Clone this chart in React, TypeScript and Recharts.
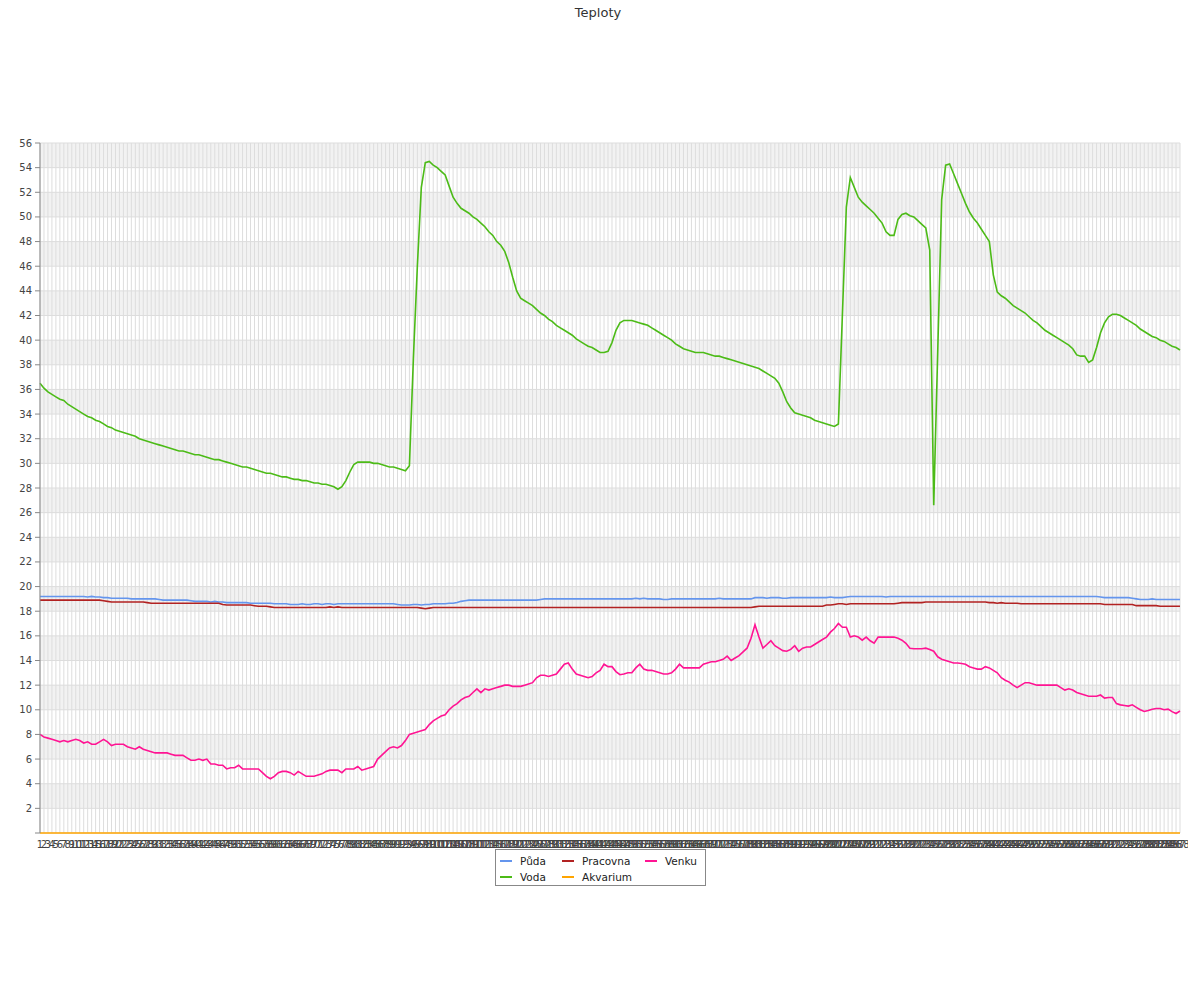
import React from 'react';
import { LineChart, Line, XAxis, YAxis, CartesianGrid } from 'recharts';

const categories: string[] = Array.from({ length: 288 }, (_, i) => String(i + 1));

const puda = [
  19.2, 19.2, 19.2, 19.2, 19.2, 19.2, 19.2, 19.2, 19.2, 19.2, 19.2, 19.2,
  19.15, 19.2, 19.15, 19.15, 19.1, 19.1, 19.05, 19.05, 19.05, 19.05, 19.05, 19.0,
  19.0, 19.0, 19.0, 19.0, 19.0, 19.0, 18.95, 18.9, 18.9, 18.9, 18.9, 18.9,
  18.9, 18.9, 18.85, 18.8, 18.8, 18.8, 18.8, 18.75, 18.8, 18.75, 18.75, 18.7,
  18.7, 18.7, 18.7, 18.7, 18.7, 18.65, 18.65, 18.65, 18.65, 18.65, 18.65, 18.6,
  18.6, 18.6, 18.6, 18.55, 18.55, 18.55, 18.6, 18.55, 18.55, 18.6, 18.6, 18.55,
  18.6, 18.6, 18.55, 18.6, 18.6, 18.6, 18.6, 18.6, 18.6, 18.6, 18.6, 18.6,
  18.6, 18.6, 18.6, 18.6, 18.6, 18.6, 18.55, 18.5, 18.5, 18.5, 18.55, 18.55,
  18.5, 18.55, 18.55, 18.6, 18.6, 18.6, 18.6, 18.65, 18.65, 18.7, 18.8, 18.85,
  18.9, 18.9, 18.9, 18.9, 18.9, 18.9, 18.9, 18.9, 18.9, 18.9, 18.9, 18.9,
  18.9, 18.9, 18.9, 18.9, 18.9, 18.9, 18.95, 19.0, 19.0, 19.0, 19.0, 19.0,
  19.0, 19.0, 19.0, 19.0, 19.0, 19.0, 19.0, 19.0, 19.0, 19.0, 19.0, 19.0,
  19.0, 19.0, 19.0, 19.0, 19.0, 19.0, 19.05, 19.0, 19.05, 19.0, 19.0, 19.0,
  19.0, 18.95, 18.95, 19.0, 19.0, 19.0, 19.0, 19.0, 19.0, 19.0, 19.0, 19.0,
  19.0, 19.0, 19.0, 19.05, 19.0, 19.0, 19.0, 19.0, 19.0, 19.0, 19.0, 19.0,
  19.1, 19.1, 19.1, 19.05, 19.1, 19.1, 19.1, 19.05, 19.05, 19.1, 19.1, 19.1,
  19.1, 19.1, 19.1, 19.1, 19.1, 19.1, 19.1, 19.15, 19.1, 19.1, 19.1, 19.15,
  19.2, 19.2, 19.2, 19.2, 19.2, 19.2, 19.2, 19.2, 19.2, 19.15, 19.2, 19.2,
  19.2, 19.2, 19.2, 19.2, 19.2, 19.2, 19.2, 19.2, 19.2, 19.2, 19.2, 19.2,
  19.2, 19.2, 19.2, 19.2, 19.2, 19.2, 19.2, 19.2, 19.2, 19.2, 19.2, 19.2,
  19.2, 19.2, 19.2, 19.2, 19.2, 19.2, 19.2, 19.2, 19.2, 19.2, 19.2, 19.2,
  19.2, 19.2, 19.2, 19.2, 19.2, 19.2, 19.2, 19.2, 19.2, 19.2, 19.2, 19.2,
  19.2, 19.2, 19.2, 19.15, 19.1, 19.1, 19.1, 19.1, 19.1, 19.1, 19.1, 19.05,
  19.0, 18.95, 18.95, 18.95, 19.0, 18.95, 18.95, 18.95, 18.95, 18.95, 18.95, 18.95,
];

const voda = [
  36.5, 36.1, 35.8, 35.6, 35.4, 35.2, 35.1, 34.8, 34.6, 34.4, 34.2, 34.0,
  33.8, 33.7, 33.5, 33.4, 33.2, 33.0, 32.9, 32.7, 32.6, 32.5, 32.4, 32.3,
  32.2, 32.0, 31.9, 31.8, 31.7, 31.6, 31.5, 31.4, 31.3, 31.2, 31.1, 31.0,
  31.0, 30.9, 30.8, 30.7, 30.7, 30.6, 30.5, 30.4, 30.3, 30.3, 30.2, 30.1,
  30.0, 29.9, 29.8, 29.7, 29.7, 29.6, 29.5, 29.4, 29.3, 29.2, 29.2, 29.1,
  29.0, 28.9, 28.9, 28.8, 28.7, 28.7, 28.6, 28.6, 28.5, 28.4, 28.4, 28.3,
  28.3, 28.2, 28.1, 27.9, 28.1, 28.6, 29.3, 29.9, 30.1, 30.1, 30.1, 30.1,
  30.0, 30.0, 29.9, 29.8, 29.7, 29.7, 29.6, 29.5, 29.4, 29.8, 38.5, 46.0,
  52.4, 54.4, 54.5, 54.2, 54.0, 53.7, 53.4, 52.5, 51.6, 51.1, 50.7, 50.5,
  50.3, 50.0, 49.8, 49.5, 49.2, 48.8, 48.5, 48.0, 47.7, 47.2, 46.3, 45.1,
  44.0, 43.4, 43.2, 43.0, 42.8, 42.5, 42.2, 42.0, 41.7, 41.5, 41.2, 41.0,
  40.8, 40.6, 40.4, 40.1, 39.9, 39.7, 39.5, 39.4, 39.2, 39.0, 39.0, 39.1,
  39.8, 40.8, 41.4, 41.6, 41.6, 41.6, 41.5, 41.4, 41.3, 41.2, 41.0, 40.8,
  40.6, 40.4, 40.2, 40.0, 39.7, 39.5, 39.3, 39.2, 39.1, 39.0, 39.0, 39.0,
  38.9, 38.8, 38.7, 38.7, 38.6, 38.5, 38.4, 38.3, 38.2, 38.1, 38.0, 37.9,
  37.8, 37.7, 37.5, 37.3, 37.1, 36.9, 36.5, 35.8, 35.0, 34.5, 34.1, 34.0,
  33.9, 33.8, 33.7, 33.5, 33.4, 33.3, 33.2, 33.1, 33.0, 33.2, 42.0, 50.8,
  53.2, 52.4, 51.6, 51.2, 50.9, 50.6, 50.3, 49.9, 49.5, 48.8, 48.5, 48.5,
  49.8, 50.2, 50.3, 50.1, 50.0, 49.7, 49.4, 49.1, 47.3, 26.6, 39.0, 51.4,
  54.2, 54.3, 53.5, 52.7, 51.9, 51.1, 50.4, 49.9, 49.5, 49.0, 48.5, 48.0,
  45.3, 43.9, 43.6, 43.4, 43.1, 42.8, 42.6, 42.4, 42.2, 41.9, 41.6, 41.4,
  41.1, 40.8, 40.6, 40.4, 40.2, 40.0, 39.8, 39.6, 39.3, 38.8, 38.7, 38.7,
  38.2, 38.4, 39.4, 40.6, 41.4, 41.9, 42.1, 42.1, 42.0, 41.8, 41.6, 41.4,
  41.2, 40.9, 40.7, 40.5, 40.3, 40.2, 40.0, 39.9, 39.7, 39.5, 39.4, 39.2,
];

const pracovna = [
  18.9, 18.9, 18.9, 18.9, 18.9, 18.9, 18.9, 18.9, 18.9, 18.9, 18.9, 18.9,
  18.9, 18.9, 18.9, 18.9, 18.85, 18.8, 18.75, 18.75, 18.75, 18.75, 18.75, 18.75,
  18.75, 18.75, 18.75, 18.7, 18.65, 18.65, 18.65, 18.65, 18.65, 18.65, 18.65, 18.65,
  18.65, 18.65, 18.65, 18.65, 18.65, 18.65, 18.65, 18.65, 18.65, 18.65, 18.55, 18.5,
  18.5, 18.5, 18.5, 18.5, 18.5, 18.5, 18.45, 18.4, 18.4, 18.4, 18.35, 18.3,
  18.3, 18.3, 18.3, 18.3, 18.3, 18.3, 18.3, 18.3, 18.3, 18.3, 18.3, 18.3,
  18.3, 18.35, 18.3, 18.35, 18.3, 18.3, 18.3, 18.3, 18.3, 18.3, 18.3, 18.3,
  18.3, 18.3, 18.3, 18.3, 18.3, 18.3, 18.3, 18.3, 18.3, 18.3, 18.3, 18.3,
  18.25, 18.2, 18.25, 18.3, 18.3, 18.3, 18.3, 18.3, 18.3, 18.3, 18.3, 18.3,
  18.3, 18.3, 18.3, 18.3, 18.3, 18.3, 18.3, 18.3, 18.3, 18.3, 18.3, 18.3,
  18.3, 18.3, 18.3, 18.3, 18.3, 18.3, 18.3, 18.3, 18.3, 18.3, 18.3, 18.3,
  18.3, 18.3, 18.3, 18.3, 18.3, 18.3, 18.3, 18.3, 18.3, 18.3, 18.3, 18.3,
  18.3, 18.3, 18.3, 18.3, 18.3, 18.3, 18.3, 18.3, 18.3, 18.3, 18.3, 18.3,
  18.3, 18.3, 18.3, 18.3, 18.3, 18.3, 18.3, 18.3, 18.3, 18.3, 18.3, 18.3,
  18.3, 18.3, 18.3, 18.3, 18.3, 18.3, 18.3, 18.3, 18.3, 18.3, 18.3, 18.3,
  18.35, 18.4, 18.4, 18.4, 18.4, 18.4, 18.4, 18.4, 18.4, 18.4, 18.4, 18.4,
  18.4, 18.4, 18.4, 18.4, 18.4, 18.4, 18.5, 18.5, 18.55, 18.6, 18.6, 18.55,
  18.6, 18.6, 18.6, 18.6, 18.6, 18.6, 18.6, 18.6, 18.6, 18.6, 18.6, 18.6,
  18.65, 18.7, 18.7, 18.7, 18.7, 18.7, 18.7, 18.75, 18.75, 18.75, 18.75, 18.75,
  18.75, 18.75, 18.75, 18.75, 18.75, 18.75, 18.75, 18.75, 18.75, 18.75, 18.75, 18.7,
  18.7, 18.65, 18.7, 18.65, 18.65, 18.65, 18.65, 18.6, 18.6, 18.6, 18.6, 18.6,
  18.6, 18.6, 18.6, 18.6, 18.6, 18.6, 18.6, 18.6, 18.6, 18.6, 18.6, 18.6,
  18.6, 18.6, 18.6, 18.6, 18.55, 18.55, 18.55, 18.55, 18.55, 18.55, 18.55, 18.55,
  18.45, 18.45, 18.45, 18.45, 18.45, 18.45, 18.4, 18.4, 18.4, 18.4, 18.4, 18.4,
];

const akvarium = [
  0, 0, 0, 0, 0, 0, 0, 0, 0, 0, 0, 0, 0, 0, 0, 0, 0, 0, 0, 0, 0, 0, 0, 0,
  0, 0, 0, 0, 0, 0, 0, 0, 0, 0, 0, 0, 0, 0, 0, 0, 0, 0, 0, 0, 0, 0, 0, 0,
  0, 0, 0, 0, 0, 0, 0, 0, 0, 0, 0, 0, 0, 0, 0, 0, 0, 0, 0, 0, 0, 0, 0, 0,
  0, 0, 0, 0, 0, 0, 0, 0, 0, 0, 0, 0, 0, 0, 0, 0, 0, 0, 0, 0, 0, 0, 0, 0,
  0, 0, 0, 0, 0, 0, 0, 0, 0, 0, 0, 0, 0, 0, 0, 0, 0, 0, 0, 0, 0, 0, 0, 0,
  0, 0, 0, 0, 0, 0, 0, 0, 0, 0, 0, 0, 0, 0, 0, 0, 0, 0, 0, 0, 0, 0, 0, 0,
  0, 0, 0, 0, 0, 0, 0, 0, 0, 0, 0, 0, 0, 0, 0, 0, 0, 0, 0, 0, 0, 0, 0, 0,
  0, 0, 0, 0, 0, 0, 0, 0, 0, 0, 0, 0, 0, 0, 0, 0, 0, 0, 0, 0, 0, 0, 0, 0,
  0, 0, 0, 0, 0, 0, 0, 0, 0, 0, 0, 0, 0, 0, 0, 0, 0, 0, 0, 0, 0, 0, 0, 0,
  0, 0, 0, 0, 0, 0, 0, 0, 0, 0, 0, 0, 0, 0, 0, 0, 0, 0, 0, 0, 0, 0, 0, 0,
  0, 0, 0, 0, 0, 0, 0, 0, 0, 0, 0, 0, 0, 0, 0, 0, 0, 0, 0, 0, 0, 0, 0, 0,
  0, 0, 0, 0, 0, 0, 0, 0, 0, 0, 0, 0, 0, 0, 0, 0, 0, 0, 0, 0, 0, 0, 0, 0,
];

const venku = [
  8.0, 7.8, 7.7, 7.6, 7.5, 7.4, 7.5, 7.4, 7.5, 7.6, 7.5, 7.3,
  7.4, 7.2, 7.2, 7.4, 7.6, 7.4, 7.1, 7.2, 7.2, 7.2, 7.0, 6.9,
  6.8, 7.0, 6.8, 6.7, 6.6, 6.5, 6.5, 6.5, 6.5, 6.4, 6.3, 6.3,
  6.3, 6.1, 5.9, 5.9, 6.0, 5.9, 6.0, 5.6, 5.6, 5.5, 5.5, 5.2,
  5.3, 5.3, 5.5, 5.2, 5.2, 5.2, 5.2, 5.2, 4.9, 4.6, 4.4, 4.6,
  4.9, 5.0, 5.0, 4.9, 4.7, 5.0, 4.8, 4.6, 4.6, 4.6, 4.7, 4.8,
  5.0, 5.1, 5.1, 5.1, 4.9, 5.2, 5.2, 5.2, 5.4, 5.1, 5.2, 5.3,
  5.4, 6.0, 6.3, 6.6, 6.9, 7.0, 6.9, 7.1, 7.5, 8.0, 8.1, 8.2,
  8.3, 8.4, 8.8, 9.1, 9.3, 9.5, 9.6, 10.0, 10.3, 10.5, 10.8, 11.0,
  11.1, 11.4, 11.7, 11.4, 11.7, 11.6, 11.7, 11.8, 11.9, 12.0, 12.0, 11.9,
  11.9, 11.9, 12.0, 12.1, 12.2, 12.6, 12.8, 12.8, 12.7, 12.8, 12.9, 13.3,
  13.7, 13.8, 13.3, 12.9, 12.8, 12.7, 12.6, 12.7, 13.0, 13.2, 13.7, 13.5,
  13.5, 13.1, 12.85, 12.9, 13.0, 13.0, 13.4, 13.7, 13.3, 13.2, 13.2, 13.1,
  13.0, 12.9, 12.9, 13.0, 13.3, 13.7, 13.4, 13.4, 13.4, 13.4, 13.4, 13.7,
  13.8, 13.9, 13.9, 14.0, 14.1, 14.35, 14.0, 14.2, 14.4, 14.7, 15.0, 15.8,
  16.9, 15.9, 15.0, 15.3, 15.6, 15.2, 15.0, 14.8, 14.75, 14.9, 15.2, 14.75,
  15.0, 15.1, 15.1, 15.3, 15.5, 15.7, 15.9, 16.3, 16.6, 17.0, 16.7, 16.7,
  15.9, 16.0, 15.9, 15.65, 15.9, 15.6, 15.4, 15.9, 15.9, 15.9, 15.9, 15.9,
  15.8, 15.65, 15.4, 15.0, 14.95, 14.95, 14.95, 15.0, 14.9, 14.75, 14.3, 14.1,
  14.0, 13.9, 13.8, 13.8, 13.75, 13.7, 13.5, 13.4, 13.3, 13.3, 13.5, 13.4,
  13.2, 13.0, 12.6, 12.4, 12.25, 12.0, 11.8, 12.0, 12.2, 12.2, 12.1, 12.0,
  12.0, 12.0, 12.0, 12.0, 12.0, 11.8, 11.6, 11.7, 11.6, 11.4, 11.3, 11.2,
  11.1, 11.1, 11.1, 11.2, 10.95, 11.0, 11.0, 10.5, 10.4, 10.35, 10.3, 10.4,
  10.2, 10.0, 9.86, 9.95, 10.05, 10.1, 10.1, 10.0, 10.05, 9.85, 9.7, 9.9,
];

const majorTicks = [0, 2, 4, 6, 8, 10, 12, 14, 16, 18, 20, 22, 24, 26, 28, 30, 32, 34, 36, 38, 40, 42, 44, 46, 48, 50, 52, 54, 56];
const minorTicks = [1, 3, 5, 7, 9, 11, 13, 15, 17, 19, 21, 23, 25, 27, 29, 31, 33, 35, 37, 39, 41, 43, 45, 47, 49, 51, 53, 55];

const series = [
  { key: 'puda', name: 'Půda', color: '#6495ed', values: puda },
  { key: 'voda', name: 'Voda', color: '#4cbb17', values: voda },
  { key: 'pracovna', name: 'Pracovna', color: '#b22222', values: pracovna },
  { key: 'akvarium', name: 'Akvarium', color: '#ffa500', values: akvarium },
  { key: 'venku', name: 'Venku', color: '#ff1493', values: venku },
];

const data = categories.map((c, i) => {
  const row: Record<string, any> = { label: c };
  series.forEach((s) => {
    row[s.key] = s.values[i];
  });
  return row;
});

const FONT = "'DejaVu Sans', sans-serif";

export default function App() {
  return (
    <div style={{ position: 'relative', width: 1180, height: 900, fontFamily: FONT }}>
      <LineChart width={1180} height={880} data={data} margin={{ top: 135, right: 8, bottom: 25, left: 0 }}>
        <CartesianGrid stroke="#dddddd" horizontalFill={['#f2f2f2', '#ffffff']} />
        <YAxis
          yAxisId="minor"
          type="number"
          domain={[0, 56]}
          ticks={minorTicks}
          interval={0}
          width={0}
          axisLine={false}
          tickLine={{ stroke: '#888' }}
          tickSize={5}
          tickFormatter={() => ''}
        />
        <YAxis
          type="number"
          domain={[0, 56]}
          ticks={majorTicks}
          interval={0}
          width={32}
          axisLine={{ stroke: '#888' }}
          tickLine={{ stroke: '#888' }}
          tickSize={5}
          tickMargin={3}
          tick={{ fontSize: 10, fill: '#444', stroke: 'none' }}
          tickFormatter={(v: number) => (v === 0 ? '' : String(v))}
        />
        <XAxis
          dataKey="label"
          interval={0}
          height={30}
          tickLine={false}
          tickSize={5}
          tickMargin={3}
          axisLine={false}
          tick={{ fontSize: 10, fill: '#444', stroke: 'none' }}
        />
        {series.map((s) => (
          <Line
            key={s.key}
            type="linear"
            dataKey={s.key}
            name={s.name}
            stroke={s.color}
            strokeWidth={1.6}
            dot={false}
            activeDot={false}
            isAnimationActive={false}
          />
        ))}
      </LineChart>
      <div
        style={{
          position: 'absolute',
          top: -3,
          left: 0,
          width: 1180,
          textAlign: 'center',
          fontSize: 13,
          lineHeight: '15px',
          color: '#333',
          zIndex: 5,
        }}
      >
        Teploty
      </div>
      <div
        style={{
          position: 'absolute',
          left: 487,
          top: 841,
          width: 211,
          height: 37,
          border: '1px solid #888',
          background: '#fff',
          boxSizing: 'border-box',
          display: 'grid',
          gridTemplateColumns: '62px 83px 60px',
          gridTemplateRows: '16px 16px',
          gridAutoFlow: 'column',
          paddingTop: 3,
          paddingLeft: 4,
          fontSize: 10.5,
          color: '#222',
          zIndex: 5,
        }}
      >
        {series.map((s) => (
          <div key={s.key} style={{ display: 'flex', alignItems: 'center', height: 16 }}>
            <span style={{ display: 'inline-block', width: 12, height: 2, background: s.color, marginRight: 8 }} />
            <span>{s.name}</span>
          </div>
        ))}
      </div>
    </div>
  );
}
